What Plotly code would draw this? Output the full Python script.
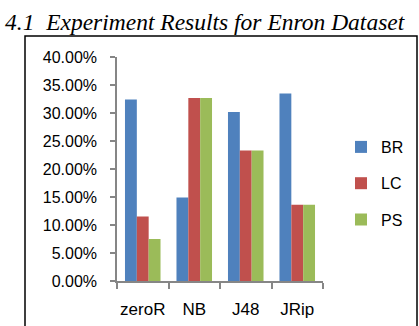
import plotly.graph_objects as go

categories = ["zeroR", "NB", "J48", "JRip"]
br = [0.324, 0.149, 0.302, 0.335]
lc = [0.115, 0.327, 0.233, 0.136]
ps = [0.075, 0.327, 0.233, 0.136]
series_names = ["BR", "LC", "PS"]
y_ticks = [0, 0.05, 0.10, 0.15, 0.20, 0.25, 0.30, 0.35, 0.40]
title_text = "4.1\u00a0 Experiment Results for Enron Dataset"

colors = ["#4F81BD", "#C0504D", "#9BBB59"]

W, H = 419, 326
L, R, T, B = 117, 96, 57, 45
pw = W - L - R
ph = H - T - B

def px_x(p):
    return (p - L) / pw

def px_y(p):
    return (H - B - p) / ph

fig = go.Figure()
for name, vals, col in zip(series_names, [br, lc, ps], colors):
    fig.add_trace(go.Bar(x=categories, y=vals, name=name, marker_color=col,
                         marker_line_width=0, legendgroup=name))

axis_col = "#868686"
fig.update_layout(
    width=W, height=H,
    margin=dict(l=L, r=R, t=T, b=B, autoexpand=False),
    paper_bgcolor="white", plot_bgcolor="white",
    barmode="group", bargap=0.31, bargroupgap=0,
    font=dict(family="Liberation Sans, Arial, sans-serif", size=16, color="#000"),
    xaxis=dict(showline=True, linecolor=axis_col, linewidth=1.5, ticks="outside",
               tickson="boundaries", ticklen=6, tickcolor=axis_col, tickwidth=1.5,
               showgrid=False, ticklabelstandoff=12, tickangle=0,
               tickfont=dict(size=17)),
    yaxis=dict(range=[0, 0.4], tickvals=y_ticks, tickformat=".2%", showline=True,
               linecolor=axis_col, linewidth=1.5, ticks="outside", ticklen=5,
               tickcolor=axis_col, tickwidth=1.5, showgrid=False, zeroline=False,
               ticklabelstandoff=10, tickfont=dict(size=16)),
    legend=dict(x=px_x(341), y=px_y(130), xanchor="left", yanchor="top",
                tracegroupgap=12.5, font=dict(size=16), itemwidth=30,
                bgcolor="rgba(0,0,0,0)"),
    showlegend=True,
)

# frame around the chart (left, top, right edges)
fig.add_shape(type="path", xref="paper", yref="paper",
              path=f"M {px_x(25)} {px_y(340)} L {px_x(25)} {px_y(36)} L {px_x(417)} {px_y(36)} L {px_x(417)} {px_y(340)}",
              line=dict(color="black", width=1.5))

fig.add_annotation(text=title_text, xref="paper", yref="paper",
                   x=px_x(3), y=px_y(22), xanchor="left", yanchor="middle",
                   showarrow=False,
                   font=dict(family="Liberation Serif, Times New Roman, serif", size=23.5, color="black", style="italic"))

fig.write_html("out.html")
